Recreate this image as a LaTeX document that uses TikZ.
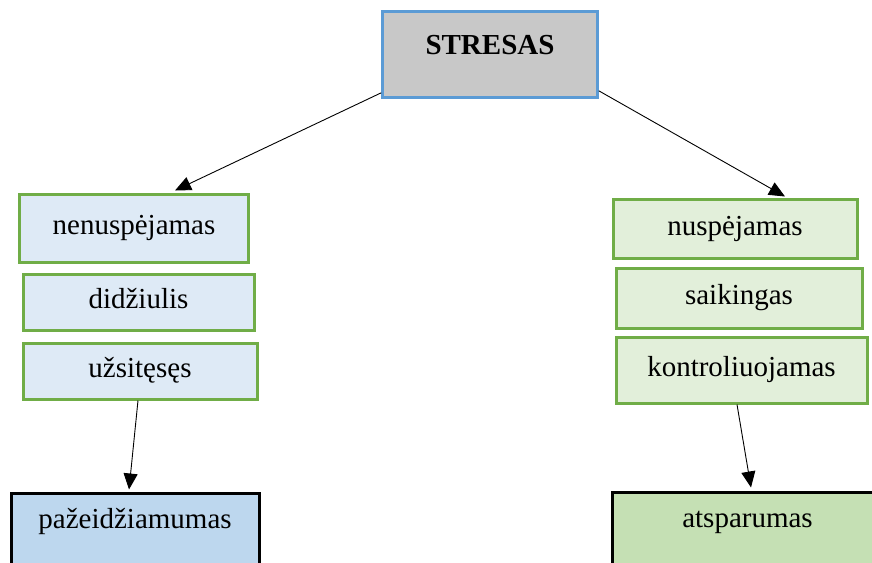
\documentclass[tikz,border=0pt]{standalone}
\usepackage{fontspec}
\setmainfont{Liberation Serif}
\usetikzlibrary{arrows.meta}
\definecolor{topfill}{RGB}{200,200,200}
\definecolor{topline}{RGB}{91,155,213}
\definecolor{leftfill}{RGB}{222,234,246}
\definecolor{rightfill}{RGB}{226,239,218}
\definecolor{boxline}{RGB}{112,173,71}
\definecolor{weakfill}{RGB}{189,215,238}
\definecolor{strongfill}{RGB}{197,224,180}

\begin{document}
\begin{tikzpicture}[x=1pt, y=-1pt,
		every node/.style={font=\fontsize{29}{34}\selectfont},
		trait/.style={draw=boxline, line width=3pt, inner sep=0pt, text height=19pt, text depth=6pt},
		outcome/.style={draw=black, line width=3pt, inner sep=0pt, anchor=north},
		link/.style={-{Triangle[length=16pt,width=14pt]}, line width=0.9pt}]

			\useasboundingbox (0,0) rectangle (872,562);
			\clip (0,0) rectangle (872,562);

			% Top: stress
			\node[draw=topline, fill=topfill, line width=2.6pt, minimum width=215pt, minimum height=86pt] (stresas) at (490,54.5) {};
			\node[anchor=base, font=\fontsize{29}{34}\selectfont\bfseries] (stresastxt) at (490,54) {STRESAS};

			% Left column
			\node[trait, fill=leftfill, minimum width=229pt, minimum height=68pt] (nenu) at (134,228) {nenuspėjamas};
			\node[trait, fill=leftfill, minimum width=231pt, minimum height=56pt] (didz) at (138.5,302) {didžiulis};
			\node[trait, fill=leftfill, minimum width=234pt, minimum height=56pt] (uzsi) at (140,371) {užsitęsęs};

			% Right column
			\node[trait, fill=rightfill, minimum width=244pt, minimum height=59pt] (nusp) at (735,228.5) {nuspėjamas};
			\node[trait, fill=rightfill, minimum width=246pt, minimum height=60pt] (saik) at (739,298) {saikingas};
			\node[trait, fill=rightfill, minimum width=251pt, minimum height=66pt] (kont) at (741.5,370) {kontroliuojamas};

			% Outcomes (cut at the bottom edge)
			\node[outcome, fill=weakfill, minimum width=248pt, minimum height=120pt] (pazeid) at (135,491.5) {};
			\node[anchor=base] (pazeidtxt) at (135,528) {pažeidžiamumas};
			\node[outcome, fill=strongfill, minimum width=270pt, minimum height=120pt] (atsp) at (747.5,490.5) {};
			\node[anchor=base] (atsptxt) at (747.5,527) {atsparumas};

			\draw[link] ([yshift=6pt]stresas.south west) -- ([xshift=41pt, yshift=2pt]nenu.north);
			\draw[link] ([yshift=8pt]stresas.south east) -- ([xshift=50pt, yshift=1pt]nusp.north);
			\draw[link] ([xshift=-2pt]uzsi.south) -- ([xshift=-6pt, yshift=2pt]pazeid.north);
			\draw[link] ([xshift=-4.5pt]kont.south) -- ([xshift=3.5pt, yshift=3pt]atsp.north);

		\end{tikzpicture}
\end{document}
